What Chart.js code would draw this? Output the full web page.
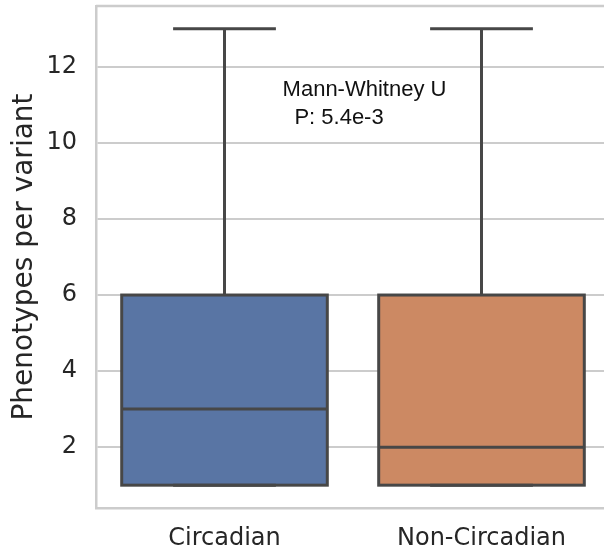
<!DOCTYPE html>
<html lang="en">
<head>
<meta charset="UTF-8">
<title>Phenotypes per variant</title>
<script src="https://cdn.jsdelivr.net/npm/chart.js"></script>
<style>
    html, body { margin: 0; padding: 0; overflow: hidden; background: #fff; }
    #wrap { width: 612px; height: 552px; }
</style>
</head>
<body>
<div id="wrap"><canvas id="box"></canvas></div>
<script>
    // box plot summaries
    const categories = ['Circadian', 'Non-Circadian'];
    const whiskerLow = [1, 1];
    const q1 = [1, 1];
    const median = [3, 2];
    const q3 = [6, 6];
    const whiskerHigh = [13, 13];
    const boxColors = ['#5975a4', '#cc8963'];
    const yTicks = [2, 4, 6, 8, 10, 12];

    // test result text, positioned in data coordinates
    const annotLines = ['Mann-Whitney U', 'P: 5.4e-3'];
    const annotX = [0.226, 0.272];
    const annotY = [11.24, 10.5];

    const lineColor = '#474747';
    const tickColor = '#262626';

    // box outlines, whiskers, caps and medians drawn over the floating bars
    const boxParts = {
        id: 'boxParts',
        afterDatasetsDraw(chart) {
            const { ctx, scales: { x, y } } = chart;
            const catW = x.getPixelForValue(1) - x.getPixelForValue(0);
            const boxW = catW * 0.8;
            const capW = boxW / 2;
            ctx.save();
            ctx.strokeStyle = lineColor;
            ctx.lineWidth = 3;
            ctx.lineCap = 'butt';
            ctx.lineJoin = 'miter';
            categories.forEach((c, i) => {
                const cx = x.getPixelForValue(i);
                ctx.beginPath();
                ctx.moveTo(cx, y.getPixelForValue(q3[i]));
                ctx.lineTo(cx, y.getPixelForValue(whiskerHigh[i]));
                ctx.moveTo(cx, y.getPixelForValue(q1[i]));
                ctx.lineTo(cx, y.getPixelForValue(whiskerLow[i]));
                ctx.moveTo(cx - capW / 2, y.getPixelForValue(whiskerHigh[i]));
                ctx.lineTo(cx + capW / 2, y.getPixelForValue(whiskerHigh[i]));
                ctx.moveTo(cx - capW / 2, y.getPixelForValue(whiskerLow[i]));
                ctx.lineTo(cx + capW / 2, y.getPixelForValue(whiskerLow[i]));
                ctx.moveTo(cx - boxW / 2, y.getPixelForValue(median[i]));
                ctx.lineTo(cx + boxW / 2, y.getPixelForValue(median[i]));
                ctx.stroke();
                const top = y.getPixelForValue(q3[i]);
                const bot = y.getPixelForValue(q1[i]);
                ctx.strokeRect(cx - boxW / 2, top, boxW, bot - top);
            });
            ctx.fillStyle = '#111';
            ctx.font = '22px "Liberation Sans", Arial, sans-serif';
            ctx.textBaseline = 'alphabetic';
            annotLines.forEach((t, i) => {
                ctx.fillText(t, x.getPixelForValue(annotX[i]), y.getPixelForValue(annotY[i]));
            });
            ctx.restore();
        },
        beforeDatasetsDraw(chart) {
            // top spine (right one falls outside the picture)
            const { ctx, chartArea } = chart;
            ctx.save();
            ctx.strokeStyle = '#cccccc';
            ctx.lineWidth = 2.5;
            ctx.beginPath();
            ctx.moveTo(chartArea.left, chartArea.top);
            ctx.lineTo(chartArea.right, chartArea.top);
            ctx.stroke();
            ctx.restore();
        }
    };

    new Chart(document.getElementById('box'), {
        type: 'bar',
        data: {
            labels: categories,
            datasets: [{
                data: categories.map((c, i) => [q1[i], q3[i]]),
                backgroundColor: boxColors,
                borderWidth: 0,
                barPercentage: 0.8,
                categoryPercentage: 1
            }]
        },
        options: {
            responsive: true,
            maintainAspectRatio: false,
            animation: false,
            layout: { padding: { top: 6, right: 2 } },
            plugins: { legend: { display: false }, tooltip: { enabled: false } },
            scales: {
                x: {
                    grid: { display: false },
                    border: { color: '#cccccc', width: 2.5 },
                    ticks: { color: tickColor, padding: 8, font: { family: 'DejaVu Sans', size: 24 } },
                    afterFit(s) { s.height = 44; s.paddingLeft = 0; s.paddingRight = 0; }
                },
                y: {
                    min: 0.4,
                    max: 13.6,
                    afterBuildTicks(s) { s.ticks = yTicks.map(v => ({ value: v })); },
                    grid: { color: '#cccccc', lineWidth: 2, drawTicks: false },
                    border: { color: '#cccccc', width: 2.5 },
                    ticks: { color: tickColor, padding: 19, font: { family: 'DejaVu Sans', size: 24 } },
                    title: {
                        display: true,
                        text: 'Phenotypes per variant',
                        color: tickColor,
                        padding: { top: 8, bottom: 0 },
                        font: { family: 'DejaVu Sans', size: 28 }
                    },
                    afterFit(s) { s.width = 96; s.paddingTop = 0; s.paddingBottom = 0; }
                }
            }
        },
        plugins: [boxParts]
    });
</script>
</body>
</html>
